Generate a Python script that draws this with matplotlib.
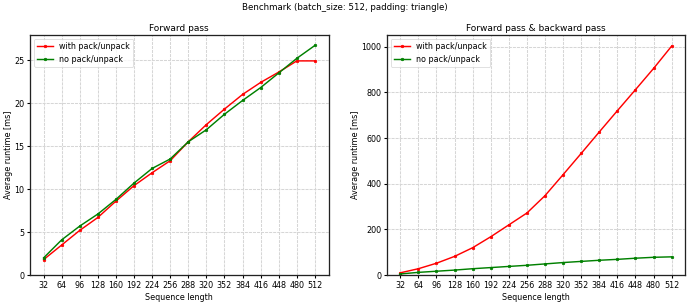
import numpy as np
import matplotlib
matplotlib.use('Agg')
import matplotlib.pyplot as plt

# sequence lengths on x axis
seq_len = [32, 64, 96, 128, 160, 192, 224, 256, 288, 320, 352, 384, 416, 448, 480, 512]

# forward pass runtimes [ms]
fwd_pack = [1.8, 3.5, 5.2, 6.7, 8.6, 10.4, 11.9, 13.3, 15.5, 17.5, 19.3, 21.0, 22.4, 23.6, 24.9, 24.9]
fwd_nopack = [2.0, 4.1, 5.7, 7.1, 8.8, 10.7, 12.4, 13.5, 15.5, 16.9, 18.7, 20.3, 21.8, 23.5, 25.2, 26.7]

# forward + backward runtimes [ms]
fb_pack = [10, 28, 52, 82, 120, 168, 220, 272, 348, 440, 533, 627, 720, 812, 905, 1003]
fb_nopack = [5, 12, 17, 22, 28, 33, 38, 43, 49, 55, 60, 65, 69, 74, 78, 80]

# big figure at low dpi -> same look as a downscaled screenshot
fig, axes = plt.subplots(1, 2, figsize=(13.27, 5.83), dpi=52)
fig.subplots_adjust(left=0.0435, right=0.993, top=0.885, bottom=0.092, wspace=0.195)
fig.suptitle('Benchmark (batch_size: 512, padding: triangle)', fontsize=12, y=0.99)

for ax, title, a, b in [(axes[0], 'Forward pass', fwd_pack, fwd_nopack),
                        (axes[1], 'Forward pass & backward pass', fb_pack, fb_nopack)]:
    ax.plot(seq_len, a, 'r-', marker='.', markersize=7, linewidth=2, label='with pack/unpack')
    ax.plot(seq_len, b, 'g-', marker='.', markersize=7, linewidth=2, label='no pack/unpack')
    ax.set_xticks(seq_len)
    ax.set_title(title, fontsize=12.5)
    ax.set_xlabel('Sequence length', fontsize=11)
    ax.set_ylabel('Average runtime [ms]', fontsize=11, labelpad=2)
    ax.grid(True, color='#d6d6d6', linestyle=(0, (3, 1)), linewidth=1.4)
    ax.legend(loc='upper left', fontsize=11)
    ax.set_ylim(bottom=0)
    ax.tick_params(labelsize=11, width=1.5, length=4)
    for s in ax.spines.values():
        s.set_linewidth(1.8)
        s.set_color('#222222')

plt.savefig('out.png')
